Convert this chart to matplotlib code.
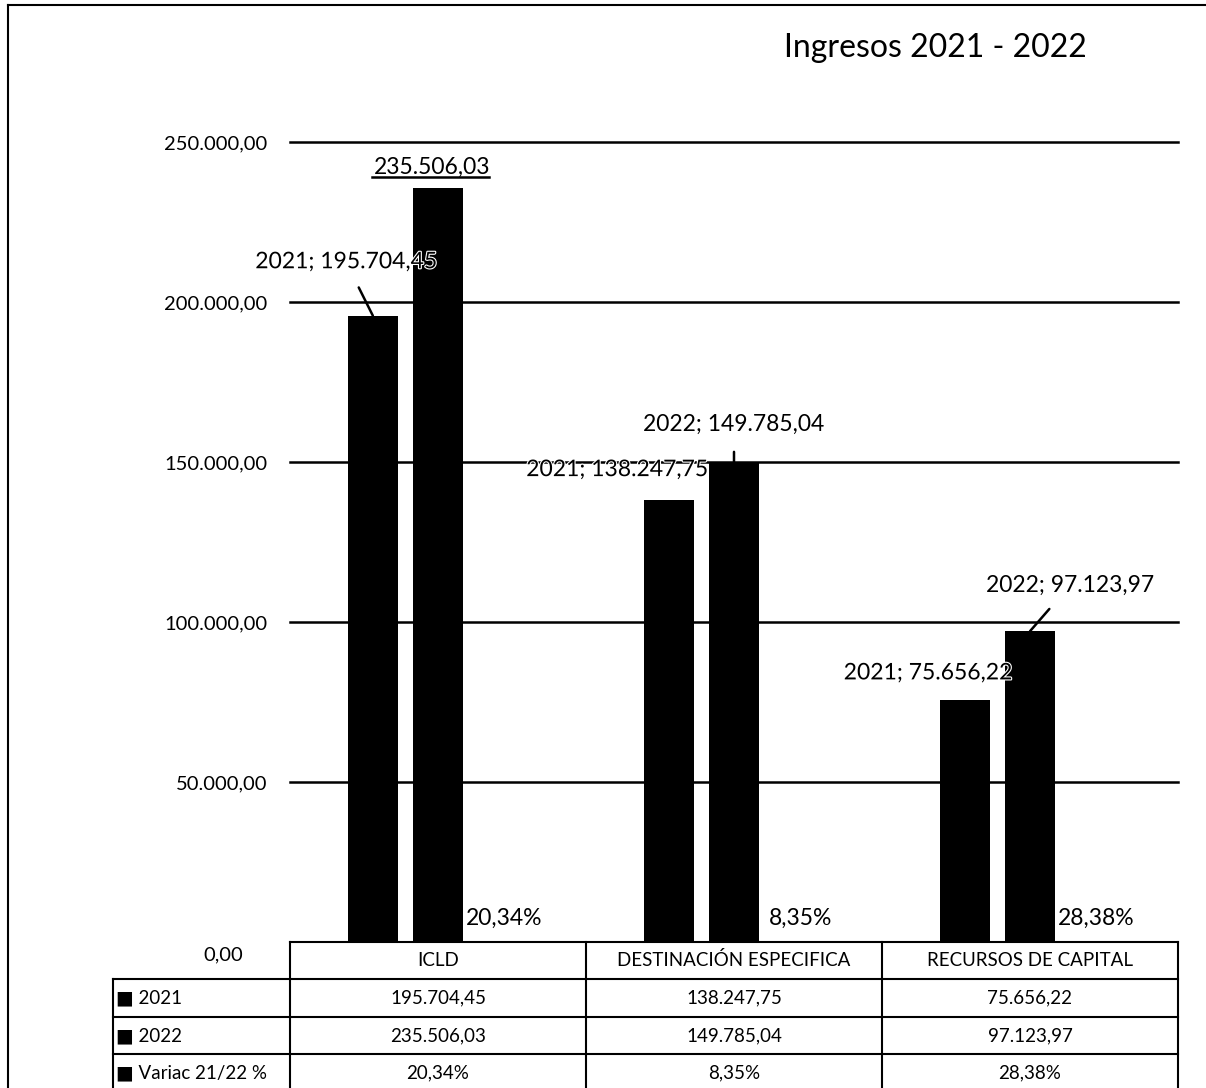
import matplotlib
matplotlib.use("Agg")
import matplotlib.pyplot as plt
from matplotlib.lines import Line2D
import matplotlib.transforms as mtransforms
import matplotlib.patheffects as pe

plt.rcParams['font.family'] = ['Lato', 'DejaVu Sans']

# data
categories = ['ICLD', 'DESTINACIÓN ESPECIFICA', 'RECURSOS DE CAPITAL']
values_2021 = [195704.45, 138247.75, 75656.22]
values_2022 = [235506.03, 149785.04, 97123.97]
variac = [20.34, 8.35, 28.38]
row_labels = ['■ 2021', '■ 2022', '■ Variac 21/22 %']
yticks = [0, 50000, 100000, 150000, 200000, 250000]
title = 'Ingresos 2021 - 2022'


def fmt_num(v):
    s = f'{v:,.2f}'
    return s.replace(',', 'X').replace('.', ',').replace('X', '.')


def fmt_pct(v):
    return f'{v:.2f}%'.replace('.', ',')


W, H = 1206, 1088
fig = plt.figure(figsize=(W / 100, H / 100), dpi=100)


def fx(px):
    return px / W


def fy(py):
    return 1 - py / H


ax_l, ax_r, ax_t, ax_b = 290, 1178, 142, 942
ax = fig.add_axes([fx(ax_l), fy(ax_b), fx(ax_r - ax_l), (ax_b - ax_t) / H])

n = len(categories)
xs = list(range(n))
bw = 0.17
off = 0.22

ax.bar([x - off for x in xs], values_2021, width=bw, color='black', zorder=3)
ax.bar(xs, values_2022, width=bw, color='black', zorder=3)
ax.bar([x + off for x in xs], variac, width=bw, color='black', zorder=3)

ax.set_xlim(-0.5, n - 0.5)
ax.set_ylim(0, 250000)
ax.set_yticks(yticks)
# the zero label sits a bit lower in the original, drawn separately below
ax.set_yticklabels([''] + [fmt_num(v) for v in yticks[1:]], fontsize=14.5)
ax.tick_params(axis='y', length=0, pad=16.5)
ax.set_xticks([])
for sp in ax.spines.values():
    sp.set_visible(False)
for t in yticks[1:]:
    ax.axhline(t, color='black', lw=1.8, zorder=1, clip_on=False)

lbl_fs = 16.5
halo = [pe.withStroke(linewidth=1.6, foreground='white')]
line_kw = dict(arrowstyle='-', color='black', lw=1.8, shrinkA=10, shrinkB=0)

# 2021 labels (offsets in pixels from bar top); they touch the 2022 bars
offs_2021 = [(-27, 54), (-52, 30), (-37, 27)]
lead_2021 = [True, False, False]
for i, v in enumerate(values_2021):
    ax.annotate(f'2021; {fmt_num(v)}', xy=(i - off, v), xytext=offs_2021[i],
                textcoords='offset pixels', ha='center', va='center', fontsize=lbl_fs,
                arrowprops=line_kw if lead_2021[i] else None, zorder=5, path_effects=halo)

# 2022 labels
offs_2022 = [(-6, 21), (0, 38), (40, 46)]
lead_2022 = [False, True, True]
for i, v in enumerate(values_2022):
    txt = fmt_num(v) if i == 0 else f'2022; {fmt_num(v)}'
    ax.annotate(txt, xy=(i, v), xytext=offs_2022[i],
                textcoords='offset pixels', ha='center', va='center', fontsize=lbl_fs,
                arrowprops=line_kw if lead_2022[i] else None, zorder=5)

# underline on the ICLD 2022 value
tr = mtransforms.offset_copy(ax.transData, fig=fig, x=0, y=11, units='dots')
ul = Line2D([-66 / 296, 51 / 296], [values_2022[0], values_2022[0]],
            color='black', lw=1.8, transform=tr, clip_on=False)
ax.add_line(ul)

# variation labels
for i, v in enumerate(variac):
    ax.annotate(fmt_pct(v), xy=(i + off, 0), xytext=(1, 24),
                textcoords='offset pixels', ha='center', va='center', fontsize=lbl_fs,
                zorder=5)

fig.text(fx(935), fy(48), title, ha='center', va='center', fontsize=23)

# data table under the plot
row_y = [942, 979, 1017, 1054, 1092]
col_x = [113, 290, 586, 882, 1178]
tbl_lw = 1.5
fs_tbl = 13.5


def hline(y, x0, x1):
    fig.add_artist(Line2D([fx(x0), fx(x1)], [fy(y), fy(y)], color='black', lw=tbl_lw))


def vline(x, y0, y1):
    fig.add_artist(Line2D([fx(x), fx(x)], [fy(y0), fy(y1)], color='black', lw=tbl_lw))


hline(row_y[0], col_x[1], col_x[-1])
for y in row_y[1:4]:
    hline(y, col_x[0], col_x[-1])
vline(col_x[0], row_y[1], row_y[-1])
for x in col_x[1:]:
    vline(x, row_y[0], row_y[-1])

for j, c in enumerate(categories):
    fig.text(fx((col_x[j + 1] + col_x[j + 2]) / 2), fy((row_y[0] + row_y[1]) / 2), c,
             ha='center', va='center', fontsize=fs_tbl)

table_rows = [[fmt_num(v) for v in values_2021],
              [fmt_num(v) for v in values_2022],
              [fmt_pct(v) for v in variac]]
for r, (lab, cells) in enumerate(zip(row_labels, table_rows)):
    yc = fy((row_y[r + 1] + row_y[r + 2]) / 2)
    fig.text(fx(col_x[0] + 3), yc, lab, ha='left', va='center', fontsize=fs_tbl)
    for j, cell in enumerate(cells):
        fig.text(fx((col_x[j + 1] + col_x[j + 2]) / 2), yc, cell,
                 ha='center', va='center', fontsize=fs_tbl)

fig.text(fx(243), fy(955), fmt_num(yticks[0]), ha='right', va='center', fontsize=14.5)

# outer frame of the scanned chart
fig.add_artist(Line2D([fx(8), fx(8)], [fy(5), 0], color='black', lw=1.5))
fig.add_artist(Line2D([fx(8), 1], [fy(5), fy(5)], color='black', lw=1.5))

fig.savefig('out.png', dpi=100)
